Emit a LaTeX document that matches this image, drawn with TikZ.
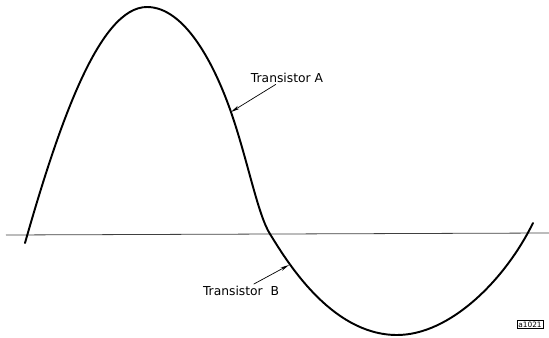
\documentclass[tikz,border=0pt]{standalone}
\usepackage{fontspec}
\setsansfont{DejaVu Sans}
\usetikzlibrary{arrows.meta,positioning}
\tikzset{
  wave/.style={line width=1.1pt, line join=round, line cap=round},
  axisline/.style={line width=0.45pt, black!75},
  pointer/.style={line width=0.4pt, -{Stealth[length=5pt,width=2pt]}},
  lettering/.style={font=\sffamily\fontsize{7}{8}\selectfont, inner sep=1pt},
  tag/.style={draw, line width=0.4pt, font=\sffamily\fontsize{4.2}{5}\selectfont, inner sep=0.8pt},
}

\begin{document}
\begin{tikzpicture}[x=0.02cm, y=-0.02cm]
	\useasboundingbox (0,0) rectangle (549,338);
	\coordinate (axL) at (6,235);
	\coordinate (axR) at (549,233);
	\draw[axisline] (axL) -- (axR);
	% output curve
	\draw[wave] (25,243) .. controls (60,120) and (100,7) .. (147,7)
		.. controls (185,7) and (215,65) .. (232,115)
		.. controls (248,162) and (258,215) .. (270,234)
		.. controls (285,258) and (330,335) .. (397,335)
		.. controls (450,335) and (505,280) .. (533,223);
	\coordinate (tipA) at (231,112);
	\coordinate (tipB) at (289,265);
	\node[lettering] (labA) at (287,77.5) {Transistor A};
	\node[lettering] (labB) at (241,291) {Transistor\ \ B};
	\draw[pointer] (labA) -- (tipA);
	\draw[pointer] (labB) -- (tipB);
	\node[tag] (ref) at (530,324.5) {a1021};
\end{tikzpicture}
\end{document}
